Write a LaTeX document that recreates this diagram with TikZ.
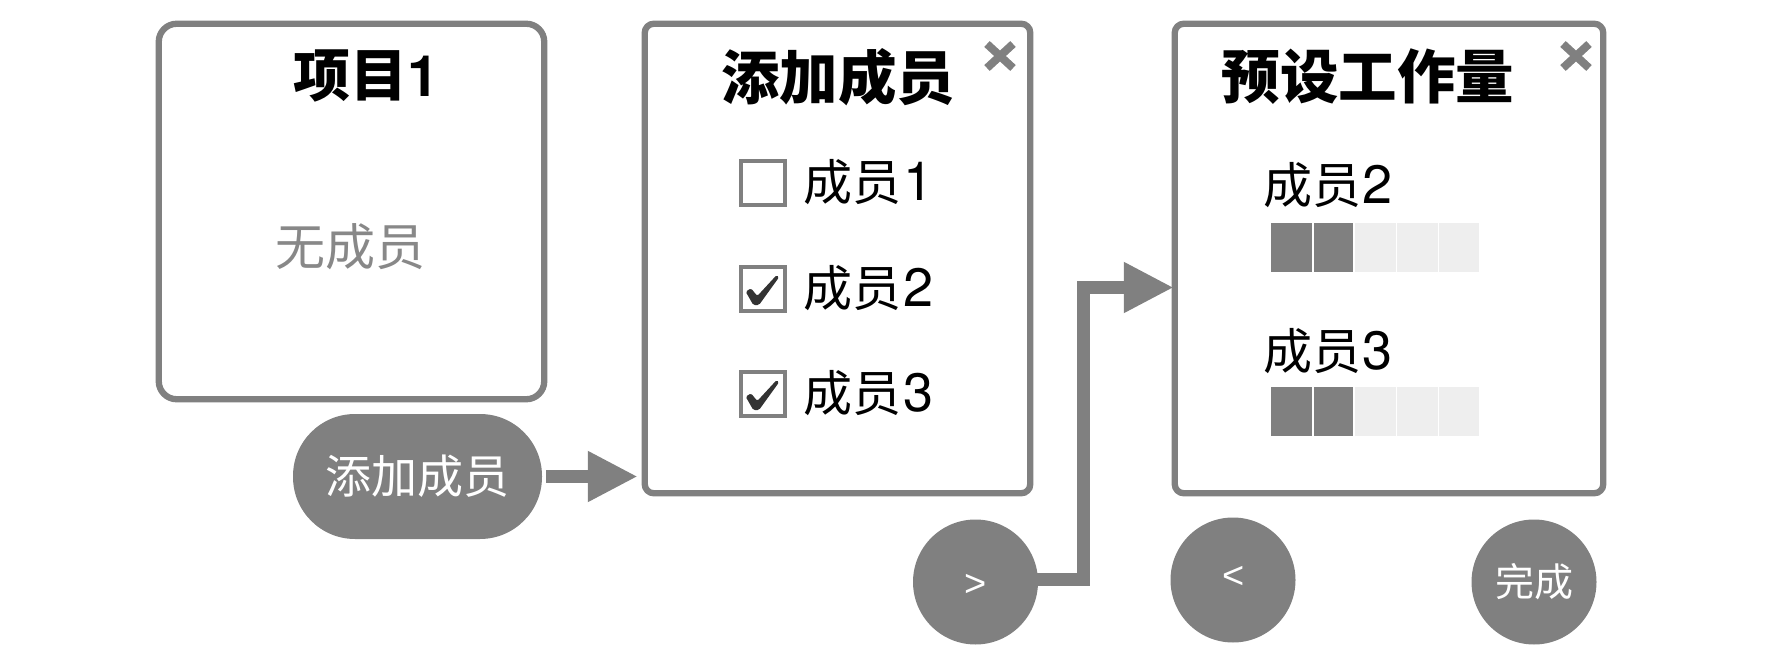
\documentclass[tikz,border=0pt]{standalone}
\usepackage{fontspec}
\setmainfont{TeX Gyre Heros}
\newfontfamily\cjk{Noto Sans CJK SC}
\newfontfamily\arrowglyph{Liberation Sans}
\usetikzlibrary{arrows.meta}
\definecolor{ui}{HTML}{808080}
\definecolor{lighttxt}{HTML}{888888}
\definecolor{cellempty}{HTML}{EEEEEE}
\definecolor{tick}{HTML}{333333}
\newcommand{\fs}[1]{\fontsize{#1}{#1}\selectfont}
\newcommand{\zh}[1]{{\cjk #1}}
\newcommand{\dg}[1]{\hspace{1.5pt}{\fs{54}#1}}
\tikzset{
  x=1pt,y=-1pt,
  every node/.style={inner sep=0pt,outer sep=0pt},
  frame/.style={draw=ui,line width=6.3pt,fill=white,rounded corners=#1},
  frame/.default=9pt,
  title/.style={font=\fs{58.5}\bfseries,text=black},
  member/.style={font=\fs{49},text=black},
  btn/.style={circle,fill=ui,text=white,minimum size=125pt},
  btntext/.style={text=white,font=\arrowglyph\fs{38}},
  pillbtn/.style={fill=ui,text=white,rounded corners=62pt,minimum width=249pt,minimum height=125pt},
  checkbox/.style={draw=ui,line width=3.8pt,fill=white,minimum size=44.5pt},
  cell/.style={minimum height=49pt,minimum width=#1},
  done/.style={cell=#1,fill=ui},
  todo/.style={cell=#1,fill=cellempty},
  closex/.style={draw=ui,line width=8pt},
  blockarrow/.style={draw=ui,line width=13pt,-{Triangle[length=50pt,width=47.5pt,fill=ui]}},
}
\begin{document}
\begin{tikzpicture}
\useasboundingbox (0,0) rectangle (1792,666);
% frames
\node[frame=18pt,minimum width=385.5pt,minimum height=375.5pt] (project) at (351.5,211.5) {};
\node[frame,minimum width=385.5pt,minimum height=469.5pt] (add) at (837.5,258.5) {};
\node[frame,minimum width=428.5pt,minimum height=469.5pt] (setup) at (1389,258.5) {};
% frame 1 text
\node[font=\fs{57}\bfseries,text=black] (t1) at (366,76) {\zh{项目}1};
\node[font=\fs{50},text=lighttxt] (none) at (350,247) {\zh{无成员}};
% buttons
\node[pillbtn,font=\fs{46}] (pill) at (417.5,476.5) {\zh{添加成员}};
\node[btn] (next) at (975.5,582) {};
\node[btntext] (nexttext) at (975.5,585) {>};
\node[btn] (prev) at (1233,580) {};
\node[btntext] (prevtext) at (1234,577.5) {<};
\node[btn,font=\fs{39}] (finish) at (1534,582) {\zh{完成}};
% frame 2
\node[title] (t2) at (838,77) {\zh{添加成员}};
\coordinate (x2) at (1000,56);
\draw[closex] ([shift={(-13,-12)}]x2) -- ([shift={(13,12)}]x2);
\draw[closex] ([shift={(-13,12)}]x2) -- ([shift={(13,-12)}]x2);
\node[checkbox] (box1) at (763,183) {};
\node[checkbox] (box2) at (763,289) {};
\node[checkbox] (box3) at (763,394) {};
\foreach \b in {box2,box3}{
  \begin{scope}[shift={(\b.center)}]
    \fill[tick,rounded corners=1.5pt] (-17.3,2.7) -- (-12,-0.7) -- (-5.7,7) -- (13.7,-14) -- (16,-11.7) -- (-4,16) -- (-9.7,16) -- cycle;
  \end{scope}
}
\node[member,anchor=west] (m1) at (803.5,182.5) {\zh{成员}\dg{1}};
\node[member,anchor=west] (m2) at (803.5,288) {\zh{成员}\dg{2}};
\node[member,anchor=west] (m3) at (803.5,393.5) {\zh{成员}\dg{3}};
% frame 3
\node[title] (t3) at (1368,77) {\zh{预设工作量}};
\coordinate (x3) at (1576,56);
\draw[closex] ([shift={(-13,-12)}]x3) -- ([shift={(13,12)}]x3);
\draw[closex] ([shift={(-13,12)}]x3) -- ([shift={(13,-12)}]x3);
\node[member,anchor=west] (w2) at (1263,185) {\zh{成员}\dg{2}};
\node[member,anchor=west] (w3) at (1263,351) {\zh{成员}\dg{3}};
\foreach \row/\y in {a/247.5,b/411}{
  \node[done=41pt] (\row1) at (1291.5,\y) {};
  \node[done=39pt] (\row2) at (1333.5,\y) {};
  \node[todo=41pt] (\row3) at (1375.5,\y) {};
  \node[todo=41pt] (\row4) at (1417.5,\y) {};
  \node[todo=40pt] (\row5) at (1459,\y) {};
}
% connectors
\draw[blockarrow,shorten <=4pt,shorten >=7pt] (pill.east) -- (pill.east -| add.west);
\coordinate (bendlow) at (1083.5,579.2);
\coordinate (bendhigh) at (1083.5,287.5);
\draw[blockarrow,shorten >=1pt,line join=miter] ([xshift=-3pt]next.east |- bendlow) -- (bendlow) -- (bendhigh) -- (bendhigh -| setup.west);
\end{tikzpicture}
\end{document}
